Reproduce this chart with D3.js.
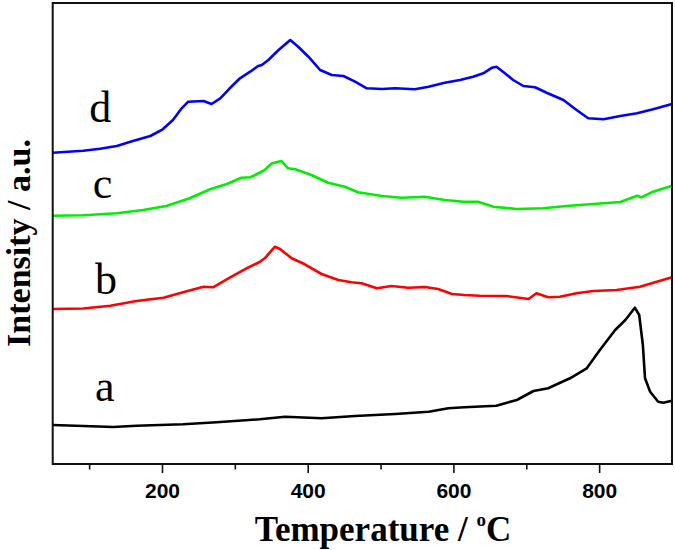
<!DOCTYPE html>
<html>
<head>
<meta charset="utf-8">
<script src="https://cdn.jsdelivr.net/npm/d3@7"></script>
<style>
  html, body { margin: 0; padding: 0; background: #fff; }
  svg { display: block; }
</style>
</head>
<body>
<svg id="chart" width="675" height="550"></svg>
<script>
// ---- Data (temperature in °C, intensity in a.u.) ----
const tempA = [50, 92, 133, 165, 229, 275, 334, 369, 419, 465, 520, 566, 593, 615, 659, 687, 710, 730, 760, 783, 801, 822, 836, 849, 855, 860, 863, 870, 881, 888, 900];
const intA  = [39, 38, 37, 38.3, 39.7, 41.7, 44.7, 47.3, 45.7, 48, 50, 52.3, 55.7, 56.7, 58.3, 64, 73, 75.7, 85.7, 95.7, 114, 134, 144, 156.3, 149, 119, 85.7, 72.3, 62.3, 61.3, 63.3];

const tempB = [50, 92, 129, 165, 202, 229, 257, 270, 293, 316, 334, 341, 355, 362, 378, 396, 419, 442, 460, 474, 495, 515, 538, 561, 579, 598, 615, 636, 673, 703, 714, 730, 746, 769, 792, 824, 856, 879, 900];
const intB  = [155, 155.5, 158.3, 163, 166.3, 171.7, 177.3, 176.7, 186.3, 195.7, 202, 205.7, 217.3, 215, 205.7, 199.7, 190, 184, 181.7, 180.7, 175.7, 178, 176.3, 177, 175, 170, 169, 168.3, 168, 165, 170.7, 166.7, 167.3, 170.7, 173, 174, 177.3, 182.3, 186.7];

const tempC = [50, 92, 138, 174, 206, 238, 266, 289, 309, 321, 328, 341, 351, 364, 373, 383, 405, 428, 451, 469, 502, 529, 561, 588, 614, 634, 655, 687, 723, 755, 792, 829, 852, 858, 874, 900];
const intC  = [248.3, 248.7, 250.7, 254, 258, 265.7, 274.7, 280, 286.3, 286.7, 289, 294, 300.7, 303, 295.7, 294.7, 289, 281.3, 277.3, 271.7, 268, 266.3, 267.3, 264, 262.3, 262.3, 257.3, 255, 255.7, 258, 260, 262, 268.3, 266.7, 272.3, 278.3];

const tempD = [50, 92, 115, 138, 160, 184, 201, 215, 227, 236, 257, 268, 280, 293, 307, 321, 332, 337, 346, 360, 376, 387, 401, 417, 433, 449, 465, 481, 502, 520, 547, 566, 588, 609, 627, 641, 653, 659, 668, 682, 696, 712, 728, 751, 769, 785, 806, 829, 852, 874, 900];
const intD  = [311.3, 313.3, 315.3, 318, 323, 328, 334.7, 344, 355.7, 362.3, 363, 360, 365.7, 375.7, 385.7, 392.3, 398, 399, 404, 414, 424, 417.3, 407.3, 394, 389, 388, 382.3, 375.7, 375, 375.7, 374.7, 377.3, 381.3, 384, 387.3, 390.7, 396.3, 397.3, 392.3, 384, 378, 376.7, 371.3, 364, 354, 345.7, 344.7, 348, 350.7, 354.7, 360];

const seriesNames  = ["a", "b", "c", "d"];
const seriesColors = ["#000000", "#ff0000", "#00ee00", "#0000ff"];
const labelTemps   = [108, 108, 105, 100];
const labelInts    = [63, 170, 266, 342];

const majorTicks = [200, 400, 600, 800];
const minorTicks = [100, 300, 500, 700];
const xDomain = [50, 900];
const yDomain = [0, 461];

// ---- Layout ----
const svg = d3.select("#chart");
const plotL = 52.7, plotR = 672, plotT = 3, plotB = 464;

const x = d3.scaleLinear().domain(xDomain).range([plotL, plotR]);
const y = d3.scaleLinear().domain(yDomain).range([plotB, plotT]);

const seriesData = [
  d3.zip(tempA, intA),
  d3.zip(tempB, intB),
  d3.zip(tempC, intC),
  d3.zip(tempD, intD)
];

const line = d3.line().x(d => x(d[0])).y(d => y(d[1]));

// curves
const g = svg.append("g");
seriesData.forEach((s, i) => {
  g.append("path")
    .attr("d", line(s))
    .attr("fill", "none")
    .attr("stroke", seriesColors[i])
    .attr("stroke-width", 2.6)
    .attr("stroke-linejoin", "round");
});

// series labels
seriesNames.forEach((n, i) => {
  svg.append("text")
    .attr("x", x(labelTemps[i]))
    .attr("y", y(labelInts[i]))
    .attr("font-family", "'Liberation Serif', 'Times New Roman', serif")
    .attr("font-size", 44)
    .attr("fill", "#000")
    .text(n);
});

// frame
svg.append("rect")
  .attr("x", plotL).attr("y", plotT)
  .attr("width", plotR - plotL).attr("height", plotB - plotT)
  .attr("fill", "none").attr("stroke", "#111").attr("stroke-width", 2);

// bottom axis (major)
const axMajor = svg.append("g")
  .attr("transform", `translate(0,${plotB})`)
  .call(d3.axisBottom(x).tickValues(majorTicks).tickSize(9).tickPadding(10).tickFormat(d3.format("d")));
axMajor.select(".domain").remove();
axMajor.selectAll("line").attr("stroke", "#111").attr("stroke-width", 1.6);
axMajor.selectAll("text")
  .attr("font-family", "'Liberation Sans', Arial, sans-serif")
  .attr("font-weight", "bold")
  .attr("font-size", 21)
  .attr("fill", "#000");

// minor ticks
const axMinor = svg.append("g")
  .attr("transform", `translate(0,${plotB})`)
  .call(d3.axisBottom(x).tickValues(minorTicks).tickSize(5.5).tickFormat(""));
axMinor.select(".domain").remove();
axMinor.selectAll("line").attr("stroke", "#111").attr("stroke-width", 1.6);

// x title
const xt = svg.append("text")
  .attr("x", 383)
  .attr("y", 541)
  .attr("text-anchor", "middle")
  .attr("font-family", "'Liberation Serif', 'Times New Roman', serif")
  .attr("font-weight", "bold")
  .attr("font-size", 35)
  .attr("fill", "#000");
xt.append("tspan").text("Temperature / ");
xt.append("tspan").attr("font-size", 19).attr("dy", -15).text("o");
xt.append("tspan").attr("dy", 15).text("C");

// y title
svg.append("text")
  .attr("transform", "translate(30,243) rotate(-90)")
  .attr("text-anchor", "middle")
  .attr("font-family", "'Liberation Serif', 'Times New Roman', serif")
  .attr("font-weight", "bold")
  .attr("font-size", 34)
  .attr("fill", "#000")
  .text("Intensity / a.u.");
</script>
</body>
</html>
